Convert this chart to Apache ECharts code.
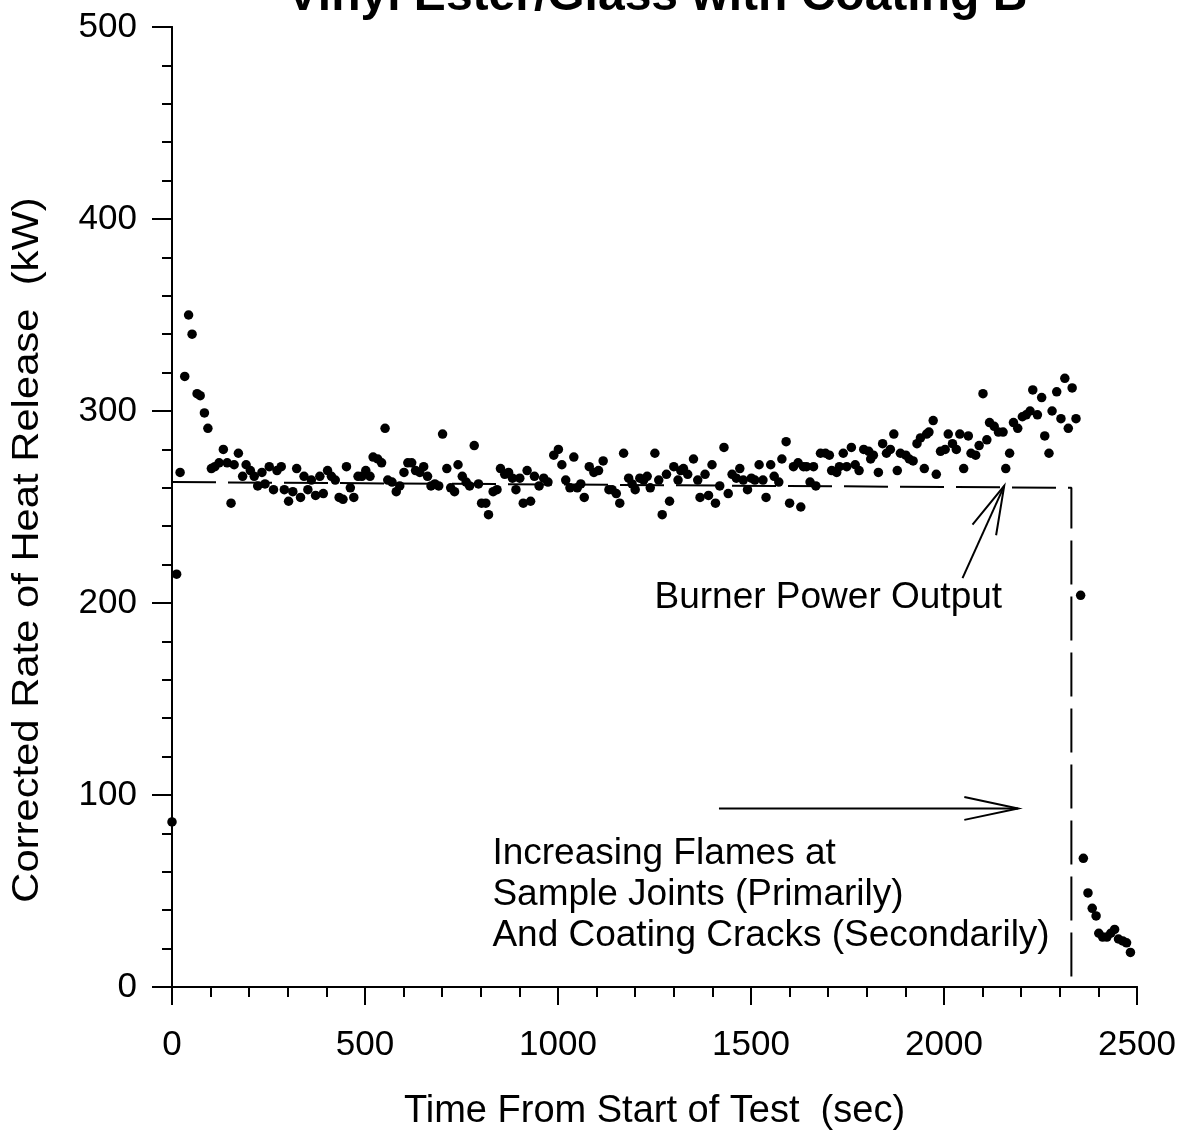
<!DOCTYPE html>
<html><head><meta charset="utf-8">
<script src="https://cdn.jsdelivr.net/npm/echarts@6.0.0/dist/echarts.min.js"></script>
<style>html,body{margin:0;padding:0;background:#fff}#c{width:1188px;height:1134px}</style>
</head><body><div id="c"></div>
<script>
const titleText = 'Vinyl Ester/Glass with Coating B';
const xAxisTitle = 'Time From Start of Test  (sec)';
const yAxisTitle = 'Corrected Rate of Heat Release  (kW)';
const xRange = [0, 2500];
const yRange = [0, 500];

const timeSec = [
  0,12,21,33,43,52,65,73,84,93,102,111,122,133,143,153,161,172,183,192,
  203,213,222,233,241,252,263,272,283,291,302,313,323,333,342,352,361,372,383,392,
  403,413,423,433,443,452,462,471,482,492,502,513,521,533,543,552,559,570,581,590,
  601,611,621,631,642,652,662,671,681,691,701,712,722,732,741,752,762,771,783,794,
  802,813,820,832,
  842,851,862,872,882,891,901,910,920,929,939,951,963,974,989,1001,1010,1020,1031,1041,
  1050,1059,1068,1081,1093,1105,1117,1132,1140,1151,1160,1170,1183,1192,1200,1212,1222,1231,1239,1251,
  1261,1270,1281,1289,1300,1311,1318,1325,1336,1351,1362,1368,1381,1390,1399,1408,1419,1430,1441,1451,
  1462,1471,1480,1491,1501,1510,1521,1531,1539,1551,1560,1572,1580,1591,1600,1610,1622,1629,1636,1644,
  1653,1662,1668,
  1680,1693,1703,1709,1722,1729,1739,1748,1760,1770,1780,1792,1805,1810,1817,1830,1841,1851,1861,1870,
  1879,1887,1901,1910,1920,1930,1939,1949,1955,1961,1972,1980,1991,2003,2011,2022,2032,2041,2051,2063,
  2070,2082,2091,2101,2111,2118,2130,2141,2153,2160,2170,2180,2191,2203,2213,2223,2230,2242,2253,2261,
  2272,2280,2292,2303,2313,2322,2332,2342,
  2354,2361,2373,2384,2394,2401,2411,2422,2432,2442,2452,2463,2473,2483
];
const hrrKW = [
  86,215,268,318,350,340,309,308,299,291,270,271,273,280,273,252,272,278,266,272,
  269,266,261,268,262,271,259,269,271,259,253,258,270,255,266,259,264,256,266,257,
  269,266,264,255,254,271,260,255,266,266,269,266,276,275,273,291,264,263,258,261,
  268,273,273,269,268,271,266,261,262,261,288,270,260,258,272,266,263,261,282,262,
  252,252,246,258,
  259,270,267,268,265,259,265,252,269,253,266,261,265,263,277,280,272,264,260,276,
  260,262,255,271,268,269,274,259,259,257,252,278,265,262,259,265,264,266,260,278,
  264,246,267,253,271,264,269,270,267,275,264,255,267,256,272,252,261,281,257,267,
  265,270,264,259,265,264,272,264,255,272,266,263,275,284,252,271,273,250,271,271,
  263,271,261,
  278,278,277,269,268,271,278,271,281,272,269,280,279,275,277,268,283,278,280,288,
  269,278,277,275,274,283,286,270,288,289,295,267,279,280,288,283,280,288,270,287,
  278,277,282,309,285,294,292,289,289,270,278,294,291,297,298,300,311,298,307,287,
  278,300,310,296,317,291,312,296,
  204,67,49,41,37,28,26,26,28,30,25,24,23,18
];
const burnerTime = [0, 2330, 2330];
const burnerKW = [263, 260, 0];

// annotation anchors in data coordinates
const burnerLabel = { text: 'Burner Power Output', at: [1250, 193] };
const burnerArrow = { tail: [2048, 213], tip: [2156, 261] };
const flamesLabels = ['Increasing Flames at', 'Sample Joints (Primarily)', 'And Coating Cracks (Secondarily)'];
const flamesAt = [[830, 60], [830, 38.6], [830, 17.2]];
const flamesArrow = { tail: [1417, 93], tip: [2192, 93] };

const FONT = '"Liberation Sans", Arial, Helvetica, sans-serif';
const chart = echarts.init(document.getElementById('c'), null, { renderer: 'canvas' });

const axisCommon = {
  type: 'value',
  axisLine: { show: true, lineStyle: { color: '#000', width: 2 } },
  splitLine: { show: false },
  minorSplitLine: { show: false }
};
const plain = v => String(v);

chart.setOption({
  animation: false,
  backgroundColor: '#fff',
  grid: { left: 172, right: 51, top: 27, bottom: 147, containLabel: false, outerBoundsMode: 'none' },
  xAxis: [
    Object.assign({}, axisCommon, {
      position: 'bottom', min: xRange[0], max: xRange[1], interval: 500,
      axisTick: { show: true, inside: false, length: 18, lineStyle: { color: '#000', width: 2 } },
      minorTick: { show: true, splitNumber: 5, length: 10, lineStyle: { color: '#000', width: 2 } },
      axisLabel: { show: true, margin: 41, fontSize: 35, color: '#000', fontFamily: FONT, formatter: plain },
      name: xAxisTitle, nameLocation: 'middle', nameGap: 106,
      nameTextStyle: { fontSize: 38, color: '#000', fontFamily: FONT }
    }),
    Object.assign({}, axisCommon, {
      position: 'top', min: xRange[0], max: xRange[1], interval: 500,
      axisTick: { show: true, inside: true, length: 18, lineStyle: { color: '#000', width: 2 } },
      minorTick: { show: true, splitNumber: 5, length: 10, lineStyle: { color: '#000', width: 2 } },
      axisLabel: { show: false }
    })
  ],
  yAxis: [
    Object.assign({}, axisCommon, {
      position: 'left', min: yRange[0], max: yRange[1], interval: 100,
      axisTick: { show: true, inside: false, length: 20, lineStyle: { color: '#000', width: 2 } },
      minorTick: { show: true, splitNumber: 5, length: 10, lineStyle: { color: '#000', width: 2 } },
      axisLabel: { show: true, margin: 35, fontSize: 35, color: '#000', fontFamily: FONT, formatter: plain }
    }),
    Object.assign({}, axisCommon, {
      position: 'right', min: yRange[0], max: yRange[1], interval: 100,
      axisTick: { show: true, inside: true, length: 20, lineStyle: { color: '#000', width: 2 } },
      minorTick: { show: true, splitNumber: 5, length: 10, lineStyle: { color: '#000', width: 2 } },
      axisLabel: { show: false }
    })
  ],
  series: [
    {
      type: 'line', name: 'Burner Power Output', xAxisIndex: 0, yAxisIndex: 0,
      data: burnerTime.map((t, i) => [t, burnerKW[i]]),
      showSymbol: false, symbol: 'none',
      lineStyle: { color: '#000', width: 2, type: [44, 12] },
      z: 2
    },
    {
      type: 'scatter', name: 'Corrected HRR', xAxisIndex: 0, yAxisIndex: 0,
      data: timeSec.map((t, i) => [t, hrrKW[i]]),
      symbol: 'circle', symbolSize: 9.5,
      itemStyle: { color: '#000', opacity: 1 },
      z: 3
    }
  ]
});

function px(p) { return chart.convertToPixel({ xAxisIndex: 0, yAxisIndex: 0 }, p); }
function arrow(tailD, tipD, headLen, angDeg) {
  const a = px(tailD), b = px(tipD);
  const dx = a[0] - b[0], dy = a[1] - b[1], L = Math.hypot(dx, dy);
  const ux = dx / L, uy = dy / L, ang = angDeg * Math.PI / 180;
  const arm = s => [b[0] + headLen * (ux * Math.cos(s * ang) - uy * Math.sin(s * ang)),
                    b[1] + headLen * (ux * Math.sin(s * ang) + uy * Math.cos(s * ang))];
  return [
    { type: 'line', shape: { x1: a[0], y1: a[1], x2: b[0], y2: b[1] }, style: { stroke: '#000', lineWidth: 2 }, z: 10 },
    { type: 'polyline', shape: { points: [arm(1), b, arm(-1)] }, style: { stroke: '#000', lineWidth: 2, fill: null }, z: 10 }
  ];
}
function label(text, at, size) {
  const p = px(at);
  return { type: 'text', x: p[0], y: p[1], z: 10,
    style: { text: text, fill: '#000', font: size + 'px ' + FONT, align: 'left', verticalAlign: 'bottom' } };
}

const gr = [];
gr.push({ type: 'text', x: 657, y: 21, z: 10,
  style: { text: titleText, fill: '#000', font: 'bold 48px ' + FONT, align: 'center', verticalAlign: 'bottom' } });
gr.push({ type: 'text', x: 28, y: 550, rotation: Math.PI / 2, scaleX: 1.16, z: 10,
  style: { text: yAxisTitle, fill: '#000', font: '36px ' + FONT, align: 'center', verticalAlign: 'middle' } });
gr.push(label(burnerLabel.text, burnerLabel.at, 37));
flamesLabels.forEach((t, i) => gr.push(label(t, flamesAt[i], 37)));
arrow(burnerArrow.tail, burnerArrow.tip, 50, 15).forEach(g => gr.push(g));
arrow(flamesArrow.tail, flamesArrow.tip, 55, 12).forEach(g => gr.push(g));
chart.setOption({ graphic: gr });
</script>
</body></html>
